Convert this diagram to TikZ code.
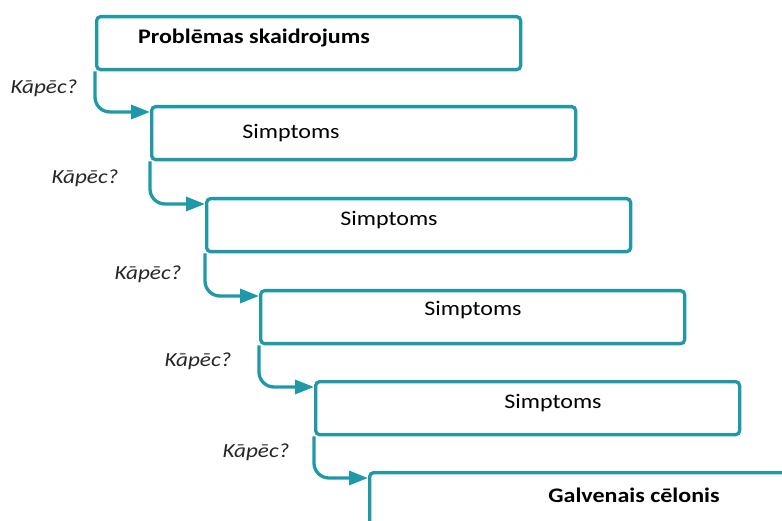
\documentclass[tikz,border=0pt]{standalone}
\usepackage{fontspec}
\setmainfont[FakeStretch=1.16]{Carlito}
\usetikzlibrary{arrows.meta,calc}
\definecolor{teal1}{RGB}{31,152,168}
\tikzset{
  stepbox/.style={draw=teal1, line width=3.3pt, rounded corners=4pt, fill=white,
    minimum width=424pt, minimum height=53pt, inner sep=0pt, anchor=north west},
  link/.style={draw=teal1, line width=3.3pt, rounded corners=15pt,
    -{Triangle[length=19pt,width=14pt]}},
  why/.style={font=\fontsize{20}{21}\selectfont\itshape, text=black!85, inner sep=0pt},
  lbl/.style={font=\fontsize{20.7}{22}\selectfont, text=black, inner sep=0pt},
  lblb/.style={font=\fontsize{20.7}{22}\selectfont\bfseries, text=black, inner sep=0pt}
}
\begin{document}
\begin{tikzpicture}[x=1pt,y=-1pt]
  \useasboundingbox (0,0) rectangle (782,521);
  \clip (0,0) rectangle (782,521);
  % the chain of boxes, each one step lower and to the right
  \node[stepbox] (b1) at (95,15) {};
  \node[stepbox] (b2) at (150,105) {};
  \node[stepbox] (b3) at (205,197) {};
  \node[stepbox] (b4) at (259,289) {};
  \node[stepbox] (b5) at (314,380) {};
  \node[stepbox, minimum width=440pt, minimum height=70pt] (b6) at (368,471) {};
  % box captions
  \node[lblb] (t1) at (254,38) {Problēmas skaidrojums};
  \node[lbl] (t2) at (291,133) {Simptoms};
  \node[lbl] (t3) at (389,220) {Simptoms};
  \node[lbl] (t4) at (473,310) {Simptoms};
  \node[lbl] (t5) at (553,403) {Simptoms};
  \node[lblb] (t6) at (634,495) {Galvenais cēlonis};
  % connectors from each box down to the next one
  \draw[link] (b1.south west) |- ($(b2.north west)+(0,7)$);
  \draw[link] (b2.south west) |- ($(b3.north west)+(0,7)$);
  \draw[link] (b3.south west) |- ($(b4.north west)+(0,7)$);
  \draw[link] (b4.south west) |- ($(b5.north west)+(0,7)$);
  \draw[link] (b5.south west) |- ($(b6.north west)+(0,7)$);
  % questions beside the connectors
  \node[why] (q1) at (44,88) {Kāpēc?};
  \node[why] (q2) at (85,178) {Kāpēc?};
  \node[why] (q3) at (148,274) {Kāpēc?};
  \node[why] (q4) at (198,361) {Kāpēc?};
  \node[why] (q5) at (256,452) {Kāpēc?};
\end{tikzpicture}
\end{document}
